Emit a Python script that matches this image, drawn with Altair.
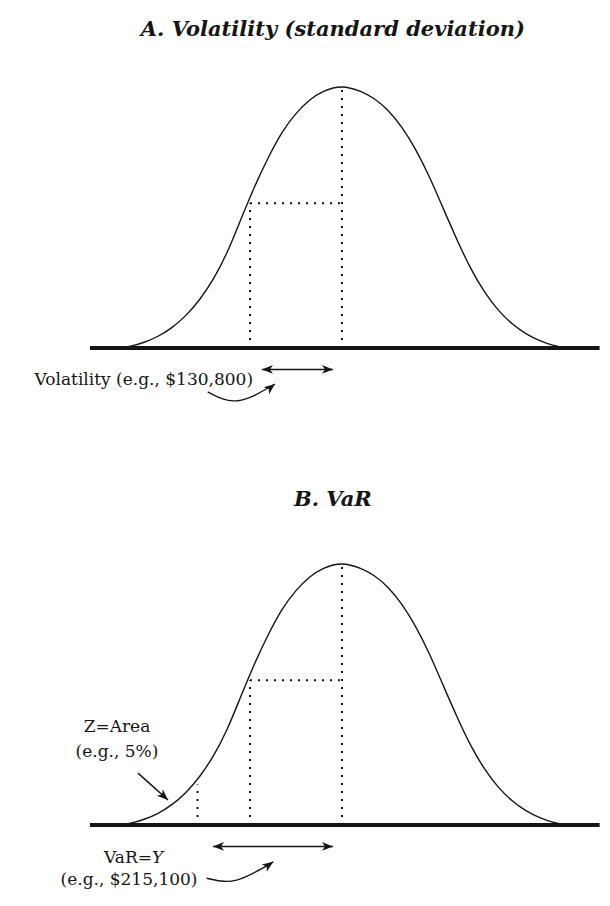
import altair as alt
import pandas as pd

# ---------------- data ----------------
# Bell curve: z = distance from the mean in standard deviations, h = height relative to the peak
curve_z = [-2.45, -2.30, -2.15, -2.00, -1.85, -1.70, -1.55, -1.40, -1.25, -1.10, -0.95, -0.80, -0.65, -0.50,
           -0.35, -0.20, 0.00, 0.20, 0.35, 0.50, 0.65, 0.80, 0.95, 1.10, 1.25, 1.40, 1.55, 1.70, 1.85, 2.00,
           2.15, 2.30, 2.45]
curve_h = [0.000, 0.007, 0.022, 0.045, 0.078, 0.124, 0.185, 0.264, 0.366, 0.492, 0.618, 0.730, 0.826, 0.898,
           0.950, 0.983, 1.000, 0.983, 0.955, 0.910, 0.845, 0.760, 0.655, 0.535, 0.415, 0.305, 0.215, 0.145,
           0.093, 0.055, 0.028, 0.010, 0.000]

baseline_z = [-2.74, 2.80]
mean_z = 0.0
peak_h = 1.0
sigma_z = -1.0
sigma_h = 0.555
tail_z = -1.57
tail_h = 0.155

vol_arrow_z = [-0.870, -0.098]
var_arrow_z = [-1.402, -0.098]
arrow_h = -0.082

vol_curve_z = [-1.460, -1.134, -0.728]
vol_curve_h = [-0.168, -0.202, -0.138]
var_curve_z = [-1.471, -1.145, -0.747]
var_curve_h = [-0.204, -0.211, -0.141]

z_arrow_z = [-2.217, -1.891]
z_arrow_h = [0.199, 0.096]

titles = ["A. Volatility (standard deviation)", "B. VaR"]
title_z = -0.10
title_h = [1.218, 1.245]

vol_label = "Volatility (e.g., $130,800)"
vol_label_z, vol_label_h = -0.967, -0.123
z_labels = ["Z=Area", "(e.g., 5%)"]
z_labels_z = -2.446
z_labels_h = [0.375, 0.280]
var_label_a, var_label_b = "VaR=", "Y"
var_label_split_z, var_label_h = -2.065, -0.126
var_example = "(e.g., $215,100)"
var_example_z, var_example_h = -2.315, -0.211

# ---------------- styling ----------------
INK = "#151515"
FONT = "DejaVu Serif"
ARROW = "M0,0 L-2,-0.8 L-1.45,0 L-2,0.8 Z"
X = alt.Scale(domain=[-3.6304, 2.8261], nice=False, zero=False)


def yscale(lo, hi):
    return alt.Scale(domain=[lo, hi], nice=False, zero=False)


def enc_xy(ys):
    return dict(x=alt.X("x:Q", scale=X, axis=None), y=alt.Y("y:Q", scale=ys, axis=None))


def seg(x0, x1, y0, y1, ys, **kw):
    df = pd.DataFrame({"x0": [x0], "x1": [x1], "y0": [y0], "y1": [y1]})
    return alt.Chart(df).mark_rule(color=INK, **kw).encode(
        x=alt.X("x0:Q", scale=X, axis=None), x2="x1:Q",
        y=alt.Y("y0:Q", scale=ys, axis=None), y2="y1:Q")


def dotted(x0, x1, y0, y1, ys):
    return seg(x0, x1, y0, y1, ys, strokeDash=[2, 6], strokeWidth=2, strokeCap="butt")


def head(x, y, ang, ys):
    df = pd.DataFrame({"x": [x], "y": [y]})
    return alt.Chart(df).mark_point(shape=ARROW, filled=True, size=121, color=INK, opacity=1,
                                    angle=ang, strokeWidth=0).encode(**enc_xy(ys))


def label(txt, x, y, ys, align="center", size=17, style="normal", weight="normal"):
    df = pd.DataFrame({"x": [x], "y": [y], "t": [txt]})
    return alt.Chart(df).mark_text(font=FONT, fontSize=size, fontStyle=style, fontWeight=weight,
                                   align=align, baseline="middle", color=INK).encode(
        text="t:N", **enc_xy(ys))


def curve_line(xs, hs, ys, interp, width):
    df = pd.DataFrame({"x": xs, "y": hs})
    return alt.Chart(df).mark_line(color=INK, strokeWidth=width, interpolate=interp).encode(**enc_xy(ys))


def common(ys, title, th, arrow_z, cz, ch, tip_angle):
    return [
        label(title, title_z, th, ys, size=21, style="italic", weight="bold"),
        dotted(mean_z, mean_z, 0, peak_h, ys),
        dotted(sigma_z, sigma_z, 0, sigma_h, ys),
        dotted(sigma_z, mean_z, sigma_h, sigma_h, ys),
        curve_line(curve_z, curve_h, ys, "natural", 1.4),
        seg(baseline_z[0], baseline_z[1], 0, 0, ys, strokeWidth=4),
        seg(arrow_z[0], arrow_z[1], arrow_h, arrow_h, ys, strokeWidth=1.5),
        head(arrow_z[0], arrow_h, 180, ys),
        head(arrow_z[1], arrow_h, 0, ys),
        curve_line(cz, ch, ys, "natural", 1.4),
        head(cz[-1], ch[-1], tip_angle, ys),
    ]


ysA = yscale(-0.4100, 1.3027)
panelA = alt.layer(
    *common(ysA, titles[0], title_h[0], vol_arrow_z, vol_curve_z, vol_curve_h, 322),
    label(vol_label, vol_label_z, vol_label_h, ysA, align="right"),
).properties(width=594, height=447)

ysB = yscale(-0.2490, 1.4176)
panelB = alt.layer(
    *common(ysB, titles[1], title_h[1], var_arrow_z, var_curve_z, var_curve_h, 325),
    dotted(tail_z, tail_z, 0, tail_h, ysB),
    seg(z_arrow_z[0], z_arrow_z[1], z_arrow_h[0], z_arrow_h[1], ysB, strokeWidth=1.5),
    head(z_arrow_z[1], z_arrow_h[1], 42, ysB),
    label(z_labels[0], z_labels_z, z_labels_h[0], ysB),
    label(z_labels[1], z_labels_z, z_labels_h[1], ysB),
    label(var_label_a, var_label_split_z, var_label_h, ysB, align="right"),
    label(var_label_b, var_label_split_z, var_label_h, ysB, align="left", style="italic"),
    label(var_example, var_example_z, var_example_h, ysB),
).properties(width=594, height=435)

chart = alt.vconcat(panelA, panelB, spacing=0).properties(
    padding=0, background="white"
).configure_view(stroke=None)

chart.save("out.html", embed_options={"renderer": "svg", "actions": False})
